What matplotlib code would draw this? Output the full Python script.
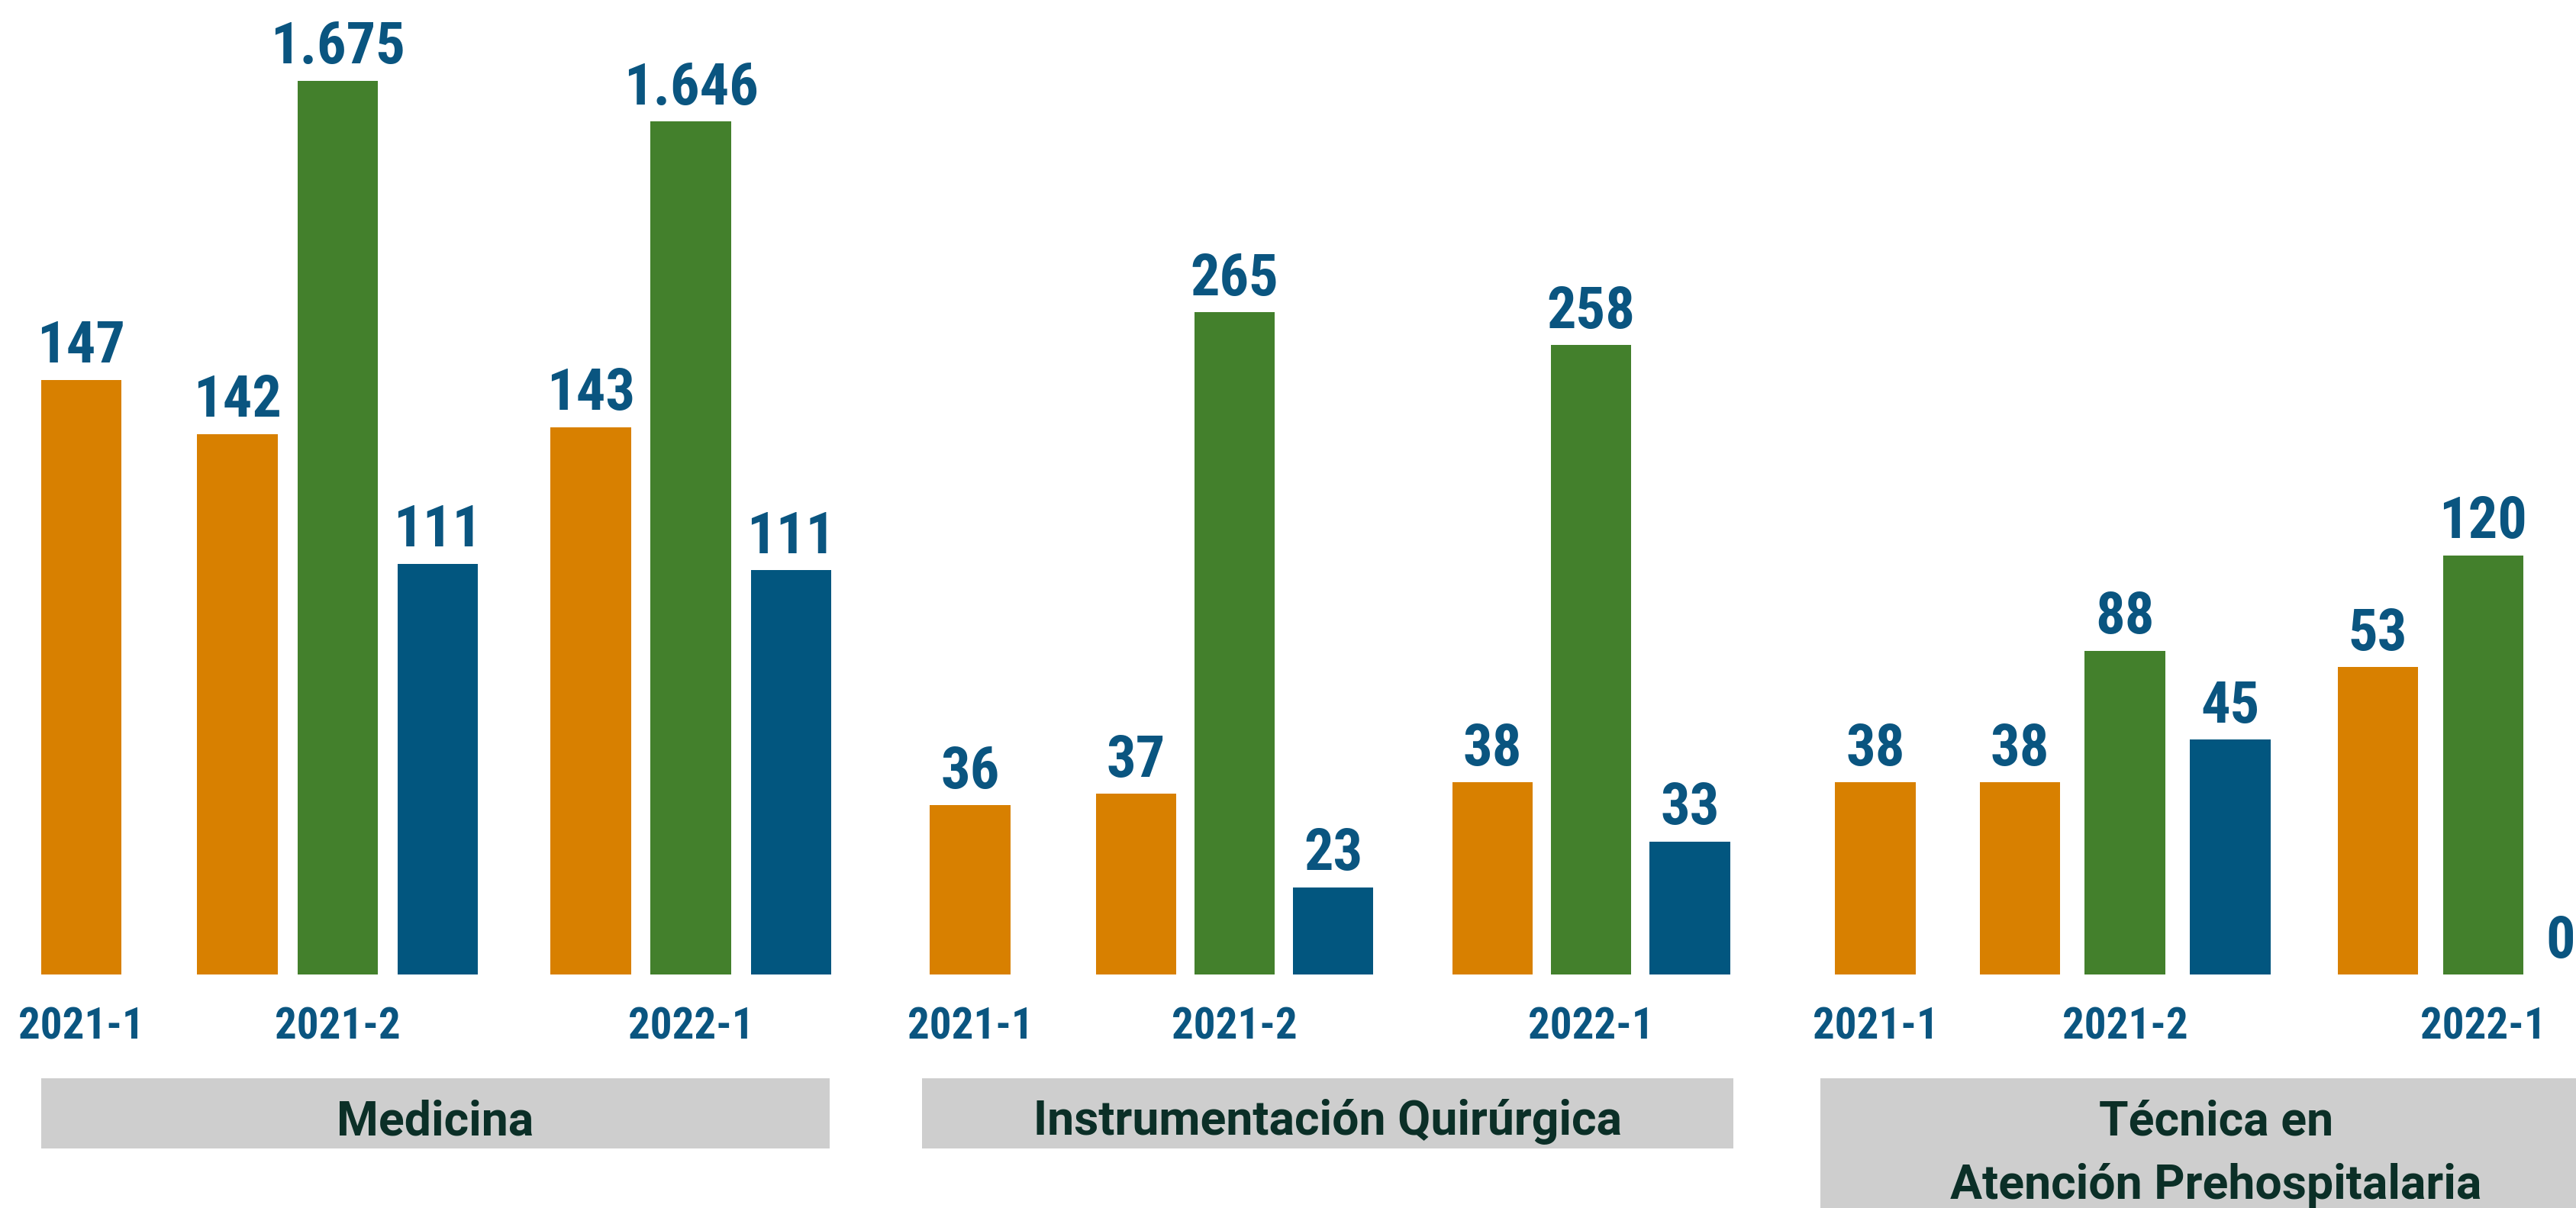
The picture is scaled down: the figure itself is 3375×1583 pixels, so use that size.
import matplotlib
matplotlib.use("Agg")
import matplotlib.pyplot as plt
from matplotlib.patches import Rectangle

# ---------------- data ----------------
programs = ["Medicina", "Instrumentación Quirúrgica", "Técnica en\nAtención Prehospitalaria"]
periods = ["2021-1", "2021-2", "2022-1"]

# values shown on the bars (orange: 3 periods, green/blue: 2021-2 and 2022-1)
orange_values = [[147, 142, 143], [36, 37, 38], [38, 38, 53]]
green_values = [[1675, 1646], [265, 258], [88, 120]]
blue_values = [[111, 111], [23, 33], [45, 0]]

# drawn bar lengths (original bars are not proportional)
orange_len = [[362, 329, 333], [103, 110, 117], [117, 117, 187]]
green_len = [[544, 519], [403, 383], [197, 255]]
blue_len = [[250, 246], [53, 81], [143, 0]]

# ---------------- style / layout ----------------
C_OR = "#D88000"
C_GR = "#43802C"
C_BL = "#02567F"
C_LBL = "#0A5580"
C_CAT = "#0B2F27"
C_BOX = "#CECECE"

NUM_FONT = ["Roboto Condensed", "Liberation Sans Narrow", "Roboto", "DejaVu Sans"]
CAT_FONT = ["Roboto", "DejaVu Sans"]

group_start = [49.5, 590.5, 1141.5]
group_gap1 = [95, 101, 88]
group_step = [61, 60, 64]
group_gap2 = [93, 97, 90]
group_last_step = [61, 60, 47]
box_pad_left = [24.5, 29.5, 33.5]
box_width = [480, 494, 482]
BW = 49

fig = plt.figure(figsize=(33.75, 15.83), dpi=100)
ax = fig.add_axes([0, 0, 1, 1])
ax.set_xlim(0, 1568)
ax.set_ylim(-142, 593)
ax.axis("off")


def fmt(v):
    return f"{v:,}".replace(",", ".")


def label(x, h, v):
    ax.text(x, h + 10.5, fmt(v), ha="center", va="baseline", fontsize=55,
            fontweight="bold", color=C_LBL, family=NUM_FONT)


for g in range(len(programs)):
    s, g1, st, g2, ls = (group_start[g], group_gap1[g], group_step[g],
                         group_gap2[g], group_last_step[g])
    xs = [s, s + g1, s + g1 + st, s + g1 + 2 * st,
          s + g1 + 2 * st + g2, s + g1 + 3 * st + g2, s + g1 + 3 * st + g2 + ls]
    # 2021-1 orange
    ax.bar(xs[0], orange_len[g][0], width=BW, color=C_OR, align="center")
    label(xs[0], orange_len[g][0], orange_values[g][0])
    for p in range(2):
        base = 1 + 3 * p
        ax.bar(xs[base], orange_len[g][p + 1], width=BW, color=C_OR)
        label(xs[base], orange_len[g][p + 1], orange_values[g][p + 1])
        ax.bar(xs[base + 1], green_len[g][p], width=BW, color=C_GR)
        label(xs[base + 1], green_len[g][p], green_values[g][p])
        if blue_len[g][p] > 0:
            ax.bar(xs[base + 2], blue_len[g][p], width=BW, color=C_BL)
        label(xs[base + 2], blue_len[g][p], blue_values[g][p])
    # period labels
    for px, per in zip([xs[0], xs[2], xs[5]], periods):
        ax.text(px, -39, per, ha="center", va="baseline", fontsize=41,
                fontweight="bold", color=C_LBL, family=NUM_FONT)
    # program box
    bx = s - box_pad_left[g]
    lines = programs[g].split("\n")
    top = -63
    bottom = -106 if len(lines) == 1 else -160
    ax.add_patch(Rectangle((bx, bottom), box_width[g], top - bottom,
                           facecolor=C_BOX, edgecolor="none"))
    cx = bx + box_width[g] / 2
    for i, ln in enumerate(lines):
        ax.text(cx, -97.5 - 39 * i, ln, ha="center", va="baseline", fontsize=45,
                fontweight="semibold", color=C_CAT, family=CAT_FONT)

fig.savefig("out.png", dpi=100, facecolor="white")
